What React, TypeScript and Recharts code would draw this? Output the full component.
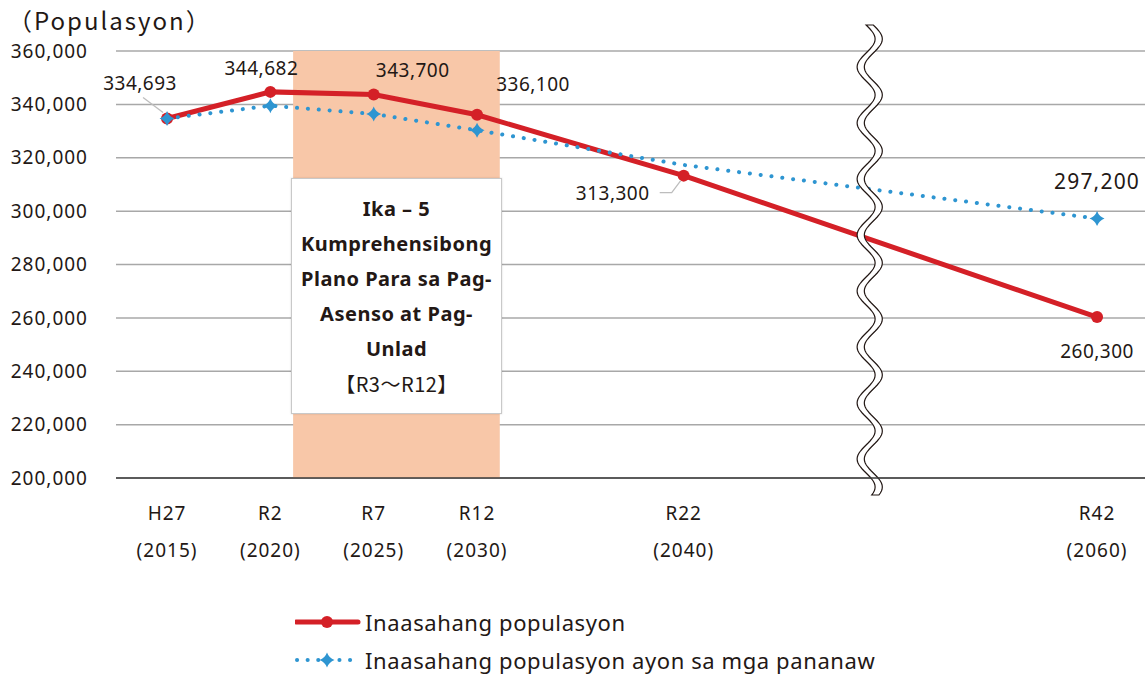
import React from 'react';
import {
  LineChart, Line, XAxis, YAxis, CartesianGrid, ReferenceArea,
  ReferenceLine, LabelList
} from 'recharts';

const years = [2015, 2020, 2025, 2030, 2040, 2060];
const eraLabels = ['H27', 'R2', 'R7', 'R12', 'R22', 'R42'];
const projected = [334693, 344682, 343700, 336100, 313300, 260300];
const outlook = [334693, 339500, 336400, 330300, 317300, 297200];
const yTicks = [200000, 220000, 240000, 260000, 280000, 300000, 320000, 340000, 360000];

const projectedName = 'Inaasahang populasyon';
const outlookName = 'Inaasahang populasyon ayon sa mga pananaw';
const planLines = ['Ika – 5', 'Kumprehensibong', 'Plano Para sa Pag-', 'Asenso at Pag-', 'Unlad'];
const planRange = '【R3～R12】';

const planStart = 2021.1;
const planEnd = 2031.1;
const breakYear = 2049;

const data = years.map((year, i) => ({
  year,
  projected: projected[i],
  outlook: outlook[i],
}));

const FONT = '"Noto Sans", "Noto Sans CJK JP", sans-serif';
const CJK = '"Noto Sans CJK JP", sans-serif';
const TEXT = '#231815';
const RED = '#D42027';
const BLUE = '#2E95D1';

const fmt = (v: number) => v.toLocaleString('en-US');

// label offsets (dx, dy) from each point
const redOffsets = [[-27, -36], [-9, -24], [39, -25], [56, -31], [-71, 17], [0, 34]];

const YearTick = ({ x, y, payload }: any) => {
  const i = years.indexOf(payload.value);
  return (
    <g fontSize={19} fill={TEXT} fontFamily={FONT} letterSpacing={1}>
      <text x={x} y={y + 27} textAnchor="middle" dominantBaseline="central">
        {eraLabels[i]}
      </text>
      <text x={x} y={y + 64} textAnchor="middle" dominantBaseline="central">
        {`(${payload.value})`}
      </text>
    </g>
  );
};

const RedLabel = ({ x, y, value, index }: any) => {
  const [dx, dy] = redOffsets[index];
  const lx = x + dx;
  const ly = y + dy;
  return (
    <g>
      {index === 0 && <polyline points={`${lx + 3},${ly + 15} ${x - 4},${y - 6}`} stroke="#bdbdbd" strokeWidth={1.3} fill="none" />}
      {index === 4 && <polyline points={`${lx + 47},${ly} ${lx + 59},${ly} ${x - 3},${y + 5}`} stroke="#bdbdbd" strokeWidth={1.3} fill="none" />}
      <text x={lx} y={ly} textAnchor="middle" dominantBaseline="central" fontSize={19} letterSpacing={0.5} fill={TEXT} fontFamily={FONT}>
        {fmt(value)}
      </text>
    </g>
  );
};

const BlueLabel = ({ x, y, value, index }: any) => {
  if (index !== years.length - 1) return null;
  return (
    <text x={x} y={y - 38} textAnchor="middle" dominantBaseline="central" fontSize={21} letterSpacing={1.2} fill={TEXT} fontFamily={FONT}>
      {fmt(value)}
    </text>
  );
};

const Diamond = ({ cx, cy, index }: any) => {
  if (index === 4 || cx == null) return <g key={`d${index}`} />;
  const r = 7.5;
  return (
    <path
      key={`d${index}`}
      d={`M${cx},${cy - r} Q${cx + 2},${cy - 2} ${cx + r},${cy} Q${cx + 2},${cy + 2} ${cx},${cy + r} Q${cx - 2},${cy + 2} ${cx - r},${cy} Q${cx - 2},${cy - 2} ${cx},${cy - r}Z`}
      fill={BLUE}
    />
  );
};

const BreakMark = (props: any) => {
  const cx = props.x1;
  const top = Math.min(props.y1, props.y2) - 26;
  const bottom = Math.max(props.y1, props.y2) + 17;
  const amp = 9;
  const period = 56;
  const half = 3.6;
  const left: string[] = [];
  const right: string[] = [];
  for (let y = top; y <= bottom; y += 2) {
    const off = amp * Math.sin((2 * Math.PI * (y - top)) / period);
    left.push(`${cx + off - half},${y}`);
    right.unshift(`${cx + off + half},${y}`);
  }
  return (
    <polygon points={[...left, ...right].join(' ')} fill="#fff" stroke="#231815" strokeWidth={1.2} />
  );
};

const LegendBox = () => (
  <div style={{ position: 'absolute', left: 295, top: 603, fontFamily: FONT, fontSize: 22, letterSpacing: 0.6, color: TEXT, lineHeight: '38px' }}>
    <div style={{ display: 'flex', alignItems: 'center' }}>
      <svg width={66} height={20}>
        <line x1={1} y1={10} x2={63} y2={10} stroke={RED} strokeWidth={5} strokeLinecap="round" />
        <circle cx={32} cy={10} r={6} fill={RED} />
      </svg>
      <span style={{ marginLeft: 4 }}>{projectedName}</span>
    </div>
    <div style={{ display: 'flex', alignItems: 'center' }}>
      <svg width={66} height={20}>
        <line x1={2} y1={10} x2={63} y2={10} stroke={BLUE} strokeWidth={4} strokeLinecap="round" strokeDasharray="0.1 10.5" />
        <path d="M32,2.5 Q34,8 39.5,10 Q34,12 32,17.5 Q30,12 24.5,10 Q30,8 32,2.5Z" fill={BLUE} />
      </svg>
      <span style={{ marginLeft: 4 }}>{outlookName}</span>
    </div>
  </div>
);

export default function App() {
  return (
    <div style={{ position: 'absolute', left: 0, top: 0, width: 1145, height: 675, background: '#fff', fontFamily: FONT }}>
      <div style={{ position: 'absolute', left: 8, top: 2, fontSize: 24, letterSpacing: 2, color: TEXT, fontFamily: CJK }}>
        （Populasyon）
      </div>
      <LineChart width={1145} height={675} data={data} margin={{ top: 51, right: 0, left: 0, bottom: 107 }}>
        <CartesianGrid vertical={false} stroke="#a8a8a8" strokeWidth={1.5} />
        <ReferenceArea x1={planStart} x2={planEnd} y1={200000} y2={360000} fill="#F8C7A8" fillOpacity={1} stroke="none" />
        <XAxis
          dataKey="year"
          type="number"
          domain={[2012.53, 2062.32]}
          ticks={years}
          allowDataOverflow
          tick={<YearTick />}
          tickLine={false}
          axisLine={{ stroke: '#3a3a3a', strokeWidth: 1.5 }}
          height={90}
          interval={0}
        />
        <YAxis
          domain={[200000, 360000]}
          ticks={yTicks}
          width={116}
          tickLine={false}
          axisLine={false}
          tickSize={26}
          tickMargin={2}
          tickFormatter={fmt}
          tick={{ fontSize: 19, fill: TEXT, fontFamily: FONT, letterSpacing: 1 }}
        />
        <Line
          type="linear"
          dataKey="projected"
          name={projectedName}
          stroke={RED}
          strokeWidth={5}
          dot={{ r: 6, fill: RED, stroke: RED, strokeWidth: 0 }}
          activeDot={false}
          isAnimationActive={false}
        >
          <LabelList dataKey="projected" content={<RedLabel />} />
        </Line>
        <Line
          type="linear"
          dataKey="outlook"
          name={outlookName}
          stroke={BLUE}
          strokeWidth={4}
          strokeLinecap="round"
          strokeDasharray="0.1 10.8"
          dot={<Diamond />}
          activeDot={false}
          isAnimationActive={false}
        >
          <LabelList dataKey="outlook" content={<BlueLabel />} />
        </Line>
        <ReferenceLine x={breakYear} shape={<BreakMark />} ifOverflow="visible" />
      </LineChart>
      <LegendBox />
      <div
        style={{
          position: 'absolute', left: 291, top: 178, width: 209, height: 234,
          background: '#fff', border: '1px solid #c9c9c9', boxShadow: '0 0 2px rgba(0,0,0,0.15)',
          display: 'flex', flexDirection: 'column', alignItems: 'center', justifyContent: 'center',
          color: TEXT, fontSize: 20, letterSpacing: 0.5, lineHeight: '35px', textAlign: 'center',
        }}
      >
        {planLines.map((t) => (
          <div key={t} style={{ fontWeight: 700, whiteSpace: 'nowrap' }}>{t}</div>
        ))}
        <div style={{ fontFamily: CJK }}>{planRange}</div>
      </div>
    </div>
  );
}
